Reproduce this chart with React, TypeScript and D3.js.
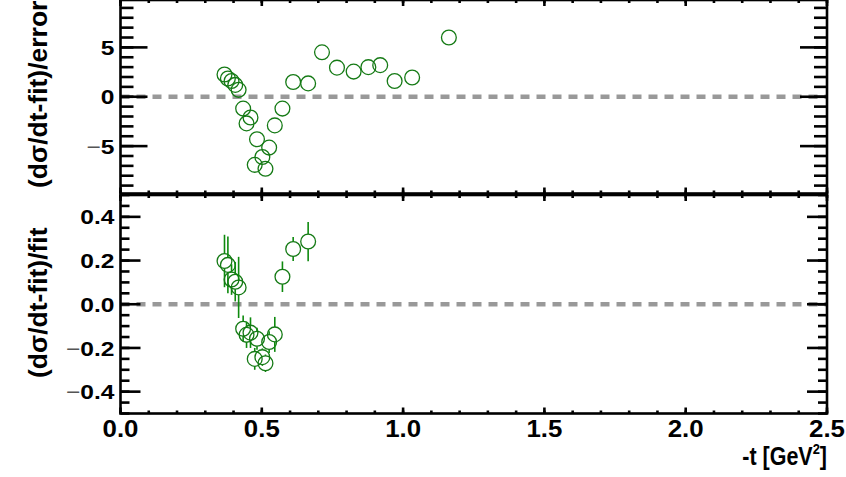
import * as d3 from 'd3';

// -t values [GeV^2] of the measured points
const tVals = [
  0.368, 0.38, 0.393, 0.406, 0.418, 0.434, 0.446, 0.46, 0.475, 0.483, 0.502, 0.513, 0.526,
  0.546, 0.573, 0.611, 0.664, 0.713, 0.766, 0.825, 0.877, 0.919, 0.97, 1.032, 1.162,
];
// (dsigma/dt - fit) / error
const pullVals = [
  2.25, 1.85, 1.6, 1.2, 0.7, -1.2, -2.7, -2.1, -6.9, -4.3, -6.1, -7.3, -5.15, -2.9, -1.2, 1.5,
  1.35, 4.5, 2.95, 2.55, 3.0, 3.2, 1.6, 1.95, 6.0,
];
// (dsigma/dt - fit) / fit, only the first 17 points
const ratioVals = [
  0.198, 0.18, 0.113, 0.103, 0.077, -0.112, -0.14, -0.13, -0.25, -0.158, -0.242, -0.27, -0.173,
  -0.138, 0.126, 0.253, 0.287,
];
const ratioErrs = [
  0.12, 0.13, 0.07, 0.09, 0.14, 0.06, 0.06, 0.07, 0.05, 0.05, 0.04, 0.04, 0.05, 0.08, 0.07,
  0.055, 0.09,
];

const W = 846;
const H = 477;
const left = 120.5;
const right = 827;
const green = '#157a15';
const errGreen = '#0e8a0e';
const font = '"Liberation Sans", Arial, Helvetica, sans-serif';
const R = 7.4;

function Minus({ v, fmt }: { v: number; fmt: (n: number) => string }) {
  if (v < 0) {
    return (
      <>
        <tspan fontWeight="normal" fill="#555">
          −
        </tspan>
        {fmt(-v)}
      </>
    );
  }
  return <>{fmt(v)}</>;
}

type PanelProps = {
  y: d3.ScaleLinear<number, number>;
  majorY: number[];
  minorY: number[];
  majLen: number;
  minLen: number;
  fmt: (n: number) => string;
};

function Frame({ y, majorY, minorY, majLen, minLen, fmt }: PanelProps) {
  const x = d3.scaleLinear().domain([0, 2.5]).range([left, right]);
  const [y0, y1] = y.range();
  const xMajor = x.ticks(5);
  const xMinor = x.ticks(25);
  return (
    <g stroke="#000" strokeWidth={2.6} fill="none">
      <rect x={left} y={y1} width={right - left} height={y0 - y1} />
      {minorY.map((v) => (
        <g key={'m' + v}>
          <line x1={left} x2={left + minLen} y1={y(v)} y2={y(v)} />
          <line x1={right} x2={right - minLen} y1={y(v)} y2={y(v)} />
        </g>
      ))}
      {majorY.map((v) => (
        <g key={'M' + v}>
          <line x1={left} x2={left + majLen} y1={y(v)} y2={y(v)} />
          <line x1={right} x2={right - majLen} y1={y(v)} y2={y(v)} />
          <text
            transform={`translate(${left - 6},${y(v)}) scale(1.17,1)`}
            dy="0.36em"
            textAnchor="end"
            stroke="none"
            fill="#000"
            fontFamily={font}
            fontWeight="bold"
            fontSize={21}
          >
            <Minus v={v} fmt={fmt} />
          </text>
        </g>
      ))}
      {xMinor.map((v) => (
        <g key={'x' + v}>
          <line x1={x(v)} x2={x(v)} y1={y0} y2={y0 - 3} />
          <line x1={x(v)} x2={x(v)} y1={y1} y2={y1 + 3} />
        </g>
      ))}
      {xMajor.map((v) => (
        <g key={'X' + v}>
          <line x1={x(v)} x2={x(v)} y1={y0} y2={y0 - 6} />
          <line x1={x(v)} x2={x(v)} y1={y1} y2={y1 + 6} />
        </g>
      ))}
    </g>
  );
}

export default function App() {
  const x = d3.scaleLinear().domain([0, 2.5]).range([left, right]);
  const yTop = d3.scaleLinear().domain([-9.8, 9.8]).range([193.5, 0]);
  const yBot = d3.scaleLinear().domain([-0.5, 0.5]).range([413.5, 195]);

  const topMajor = yTop.ticks(4);
  const topMinor = yTop.ticks(20);
  const botMajor = yBot.ticks(5);
  const botMinor = yBot.ticks(20);

  return (
    <svg
      width={W}
      height={H}
      style={{ position: 'absolute', left: 0, top: 0, background: '#fff' }}
    >
      {/* zero lines */}
      <line
        x1={left}
        x2={right}
        y1={yTop(0)}
        y2={yTop(0)}
        stroke="#999"
        strokeWidth={4.5}
        strokeDasharray="9 7"
      />
      <line
        x1={left}
        x2={right}
        y1={yBot(0)}
        y2={yBot(0)}
        stroke="#999"
        strokeWidth={4.5}
        strokeDasharray="9 7"
      />

      <Frame
        y={yTop}
        majorY={topMajor}
        minorY={topMinor}
        majLen={27}
        minLen={13}
        fmt={d3.format('d')}
      />
      <Frame
        y={yBot}
        majorY={botMajor}
        minorY={botMinor}
        majLen={20}
        minLen={9}
        fmt={d3.format('.1f')}
      />

      {/* top panel: pulls */}
      {pullVals.map((v, i) => (
        <circle
          key={'p' + i}
          cx={x(tVals[i])}
          cy={yTop(v)}
          r={R}
          fill="none"
          stroke={green}
          strokeWidth={1.3}
        />
      ))}

      {/* bottom panel: relative deviation with errors */}
      {ratioVals.map((v, i) => {
        const cx = x(tVals[i]);
        const cy = yBot(v);
        const yHi = yBot(v + ratioErrs[i]);
        const yLo = yBot(v - ratioErrs[i]);
        return (
          <g key={'r' + i}>
            {cy - R > yHi && (
              <line x1={cx} x2={cx} y1={yHi} y2={cy - R} stroke={errGreen} strokeWidth={1.6} />
            )}
            {yLo > cy + R && (
              <line x1={cx} x2={cx} y1={cy + R} y2={yLo} stroke={errGreen} strokeWidth={1.6} />
            )}
            <circle cx={cx} cy={cy} r={R} fill="none" stroke={green} strokeWidth={1.3} />
          </g>
        );
      })}

      {/* x tick labels */}
      {x.ticks(5).map((v) => (
        <text
          key={'xl' + v}
          transform={`translate(${x(v)},436.5) scale(1.1,1)`}
          textAnchor="middle"
          fontFamily={font}
          fontWeight="bold"
          fontSize={23.5}
        >
          {d3.format('.1f')(v)}
        </text>
      ))}

      {/* axis titles */}
      <text
        transform={`translate(${right},465) scale(0.86,1)`}
        textAnchor="end"
        fontFamily={font}
        fontWeight="bold"
        fontSize={25}
      >
        -t [GeV
        <tspan dy={-11} fontSize={15}>
          2
        </tspan>
        <tspan dy={11}>]</tspan>
      </text>
      <text
        transform="translate(47,188) rotate(-90)"
        fontFamily={font}
        fontWeight="bold"
        fontSize={26.5}
      >
        (dσ/dt-fit)/error
      </text>
      <text
        transform="translate(47,378) rotate(-90)"
        fontFamily={font}
        fontWeight="bold"
        fontSize={26.5}
      >
        (dσ/dt-fit)/fit
      </text>
    </svg>
  );
}
